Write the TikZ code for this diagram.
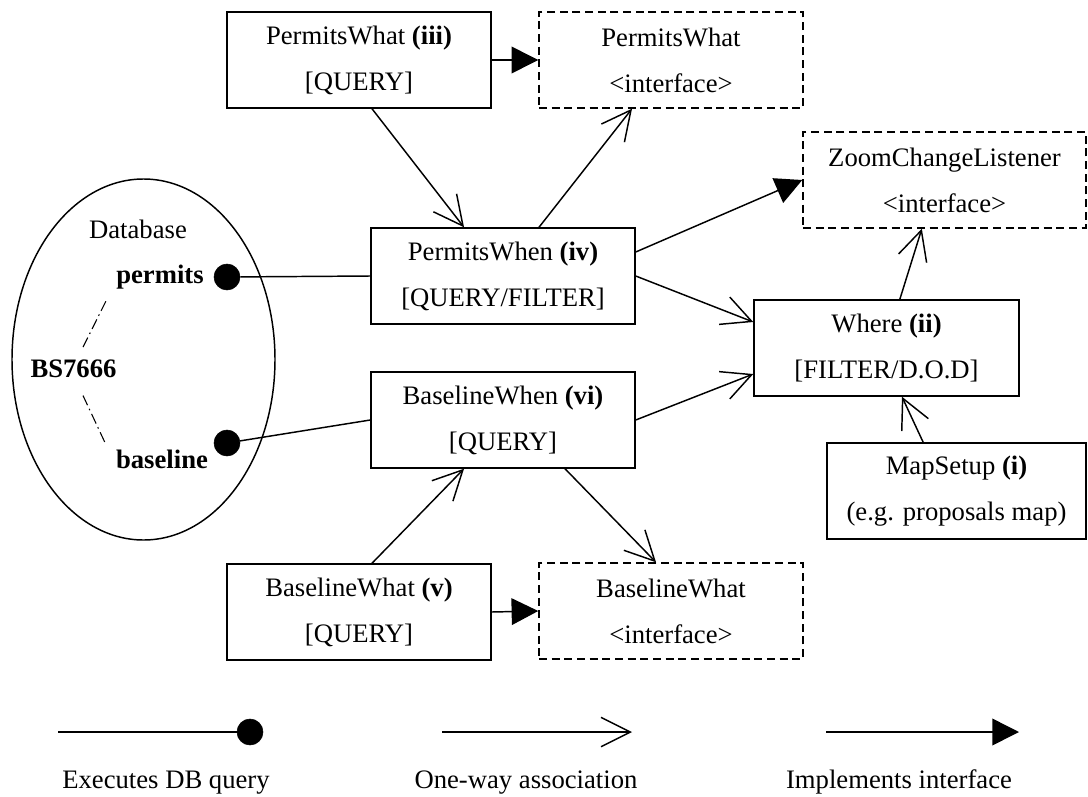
\documentclass[tikz,border=0pt]{standalone}
\usepackage{fontspec}
\setmainfont{Liberation Serif}
\usetikzlibrary{arrows.meta,shapes.geometric}
\begin{document}
\begin{tikzpicture}[x=0.75pt,y=-0.75pt,
  every node/.style={font=\fontsize{20}{34.5}\selectfont},
  conn/.style={line width=1.1pt},
  box/.style={draw, line width=1.1pt, minimum width=198pt, minimum height=72pt,
    align=center, inner sep=0pt},
  ibox/.style={box, dash pattern=on 6pt off 3.5pt},
  label/.style={inner sep=0pt, anchor=base},
  dot/.style={circle, fill=black, draw=black, minimum size=19.5pt, inner sep=0pt},
  assoc/.style={conn, -{Straight Barb[length=22pt,width=22pt,line width=1.1pt]}},
  impl/.style={conn, -{Triangle[length=20pt,width=20pt]}},
  query/.style={conn},
  dashdot/.style={line width=0.8pt, dash pattern=on 8pt off 3pt on 1.2pt off 3pt},
]
\useasboundingbox (0,0) rectangle (1088,796);

% database
\node[draw, ellipse, line width=1.1pt, minimum width=197.25pt, minimum height=270.75pt,
  inner sep=0pt] (db) at (143.5,359.5) {};
\node[label] (dbname) at (138,238) {Database};
\node[label, font=\fontsize{20}{24}\selectfont\bfseries] (permits) at (160,283) {permits};
\node[label, font=\fontsize{20}{24}\selectfont\bfseries] (bs) at (73.5,377) {BS7666};
\node[label, font=\fontsize{20}{24}\selectfont\bfseries] (baseline) at (162,468) {baseline};
\node[dot] (pdot) at (227,277) {};
\node[dot] (bdot) at (227,443) {};
\draw[dashdot] ([shift={(9.5,-12)}]bs.north) -- ([shift={(-9,10)}]permits.south west);
\draw[dashdot] ([shift={(9.5,18)}]bs.south) -- ([shift={(-11,-7)}]baseline.north west);

% components
\node[box] (pwhat) at (359,60) {PermitsWhat \textbf{(iii)}\\{[QUERY]}};
\node[ibox] (pwhatI) at (671,60) {PermitsWhat\\{<interface>}};
\node[box] (pwhen) at (503,276) {PermitsWhen \textbf{(iv)}\\{[QUERY/FILTER]}};
\node[box] (bwhen) at (503,420) {BaselineWhen \textbf{(vi)}\\{[QUERY]}};
\node[box] (bwhat) at (359,612) {BaselineWhat \textbf{(v)}\\{[QUERY]}};
\node[ibox] (bwhatI) at (671,611) {BaselineWhat\\{<interface>}};
\node[box, minimum width=198.75pt] (where) at (886.5,348) {Where \textbf{(ii)}\\{[FILTER/D.O.D]}};
\node[ibox, minimum width=212.25pt] (zcl) at (944.5,180) {ZoomChangeListener\\{<interface>}};
\node[box, minimum width=194.25pt] (map) at (956.5,491) {MapSetup \textbf{(i)}\\(e.g. proposals map)};

% database queries
\draw[query] (pdot) -- (pwhen.west);
\draw[query] (bdot) -- (bwhen.west);

% implemented interfaces
\draw[impl] (pwhat.east) -- (pwhatI.west);
\draw[impl] (bwhat.east) -- (bwhatI.west);
\draw[impl] ([yshift=18pt]pwhen.east) -- (zcl.west);

% associations
\draw[assoc] ([xshift=9.75pt]pwhat.south) -- ([xshift=-29.25pt]pwhen.north);
\draw[assoc] ([xshift=27pt]pwhen.north) -- ([xshift=-29.25pt]pwhatI.south);
\draw[assoc] (pwhen.east) -- ([yshift=19.5pt]where.west);
\draw[assoc] (bwhen.east) -- ([yshift=-19.5pt]where.west);
\draw[assoc] ([xshift=10pt]where.north) -- ([xshift=-17pt]zcl.south);
\draw[assoc] ([xshift=-25pt]map.north) -- ([xshift=11.6pt]where.south);
\draw[assoc] ([xshift=9.75pt]bwhat.north) -- ([xshift=-29.25pt]bwhen.south);
\draw[assoc] ([xshift=46.5pt]bwhen.south) -- ([xshift=-11.25pt]bwhatI.north);

% legend
\coordinate (k1) at (58,732);
\node[dot] (kdot) at (250,732) {};
\draw[query] (k1) -- (kdot);
\coordinate (k2a) at (442,732);
\coordinate (k2b) at (632,732);
\draw[assoc] (k2a) -- (k2b);
\coordinate (k3a) at (826,732);
\coordinate (k3b) at (1019,732);
\draw[impl] (k3a) -- (k3b);
\node[label] (t1) at (166,788) {Executes DB query};
\node[label] (t2) at (526,788) {One-way association};
\node[label] (t3) at (899,788) {Implements interface};
\end{tikzpicture}
\end{document}
